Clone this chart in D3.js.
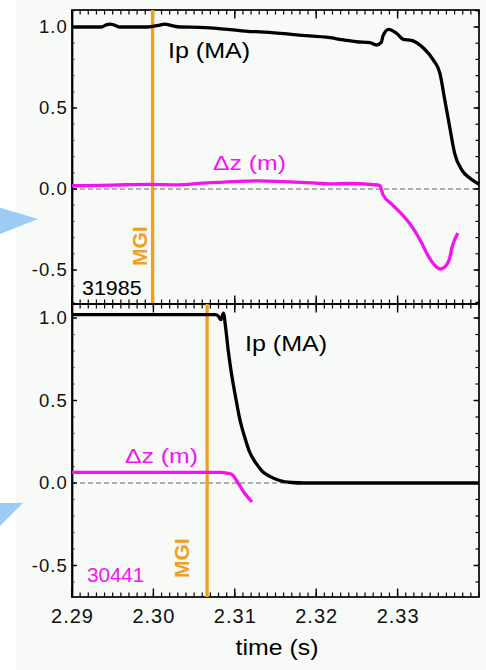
<!DOCTYPE html>
<html>
<head>
<meta charset="utf-8">
<script src="https://cdn.jsdelivr.net/npm/d3@7"></script>
<style>
  html, body { margin: 0; padding: 0; background: #ffffff; }
  svg { display: block; }
  text { font-family: "Liberation Sans", Arial, Helvetica, sans-serif; }
</style>
</head>
<body>
<svg id="chart" width="486" height="670"></svg>
<script>
// ---- shared axis settings ----
const timeDomain = [2.29, 2.34];
const timeTicks = [2.29, 2.30, 2.31, 2.32, 2.33];
const timeTickLabels = ["2.29", "2.30", "2.31", "2.32", "2.33"];
const valueTicks = [1.0, 0.5, 0.0, -0.5];
const valueTickLabels = ["1.0", "0.5", "0.0", "-0.5"];

// ---- shot 31985 (upper panel) ----
const shotTop = "31985";
const mgiTop = 2.2999;
const ipTimeTop = [2.2900, 2.2936, 2.2942, 2.2947, 2.2952, 2.2959, 2.2993, 2.3008, 2.3014, 2.3020,
  2.3033, 2.3057, 2.3094, 2.3119, 2.3131, 2.3156, 2.3176, 2.3217, 2.3229, 2.3250,
  2.3266, 2.3274, 2.3280, 2.3282, 2.3289, 2.3299, 2.3307, 2.3317, 2.3332, 2.3344,
  2.3352, 2.3358, 2.3364, 2.3370, 2.3379, 2.3389, 2.3400];
const ipValueTop = [1.000, 1.000, 1.013, 1.018, 1.012, 1.000, 1.000, 1.012, 1.018, 1.012,
  1.000, 0.998, 0.984, 0.972, 0.970, 0.961, 0.951, 0.934, 0.924, 0.909,
  0.903, 0.889, 0.905, 0.945, 0.986, 0.960, 0.924, 0.918, 0.869, 0.796,
  0.714, 0.549, 0.383, 0.222, 0.117, 0.066, 0.029];
const dzTimeTop = [2.2900, 2.2950, 2.2996, 2.3030, 2.3060, 2.3100, 2.3130, 2.3160, 2.3200, 2.3220,
  2.3240, 2.3270, 2.3278, 2.3282, 2.3294, 2.3306, 2.3318, 2.3329, 2.3339, 2.3347,
  2.3352, 2.3358, 2.3364, 2.3367, 2.3374];
const dzValueTop = [0.020, 0.024, 0.029, 0.026, 0.036, 0.046, 0.050, 0.045, 0.036, 0.031,
  0.034, 0.027, 0.022, -0.035, -0.099, -0.160, -0.235, -0.327, -0.426, -0.478,
  -0.494, -0.481, -0.426, -0.358, -0.272];

// ---- shot 30441 (lower panel) ----
const shotBottom = "30441";
const mgiBottom = 2.3066;
const ipTimeBottom = [2.2900, 2.3076, 2.3080, 2.3083, 2.3086, 2.3089, 2.3092, 2.3096, 2.3101, 2.3106,
  2.3112, 2.3118, 2.3126, 2.3134, 2.3143, 2.3155, 2.3170, 2.3185, 2.3400];
const ipValueBottom = [1.020, 1.020, 1.010, 0.990, 1.030, 0.930, 0.800, 0.660, 0.520, 0.390,
  0.280, 0.190, 0.120, 0.070, 0.040, 0.015, 0.003, 0.000, 0.000];
const dzTimeBottom = [2.2900, 2.3000, 2.3084, 2.3090, 2.3096, 2.3104, 2.3112, 2.3119, 2.3121];
const dzValueBottom = [0.065, 0.065, 0.065, 0.060, 0.053, 0.000, -0.062, -0.103, -0.115];

// ---- colours ----
const ipColor = "#000000";
const dzColor = "#f512f2";
const mgiColor = "#f0a01e";
const frameColor = "#000000";
const minorTickColor = "#8a8a8a";

const svg = d3.select("#chart");

// page background: white strip on the left, pale tint behind the plots
svg.append("rect").attr("x", 0).attr("y", 0).attr("width", 486).attr("height", 670).attr("fill", "#ffffff");
svg.append("rect").attr("x", 16).attr("y", 0).attr("width", 470).attr("height", 670).attr("fill", "#f7faf6");

// blue pointer markers at the left edge
svg.append("polygon").attr("points", "-20,202 38,219 -20,242").attr("fill", "#9ccbf6");
svg.append("polygon").attr("points", "-10,503 23,503 -10,536").attr("fill", "#9ccbf6");

const x = d3.scaleLinear().domain(timeDomain).range([72, 479]);
const minorTime = d3.range(0, 51).map(i => +(timeDomain[0] + i * 0.001).toFixed(3));
const minorValue = d3.range(-7, 12).map(i => +(i * 0.1).toFixed(1));

// horizontal text, slightly widened like the original lettering
function label(parent, px, py, str, size, sx, color, opts = {}) {
  return parent.append("text")
    .attr("transform", `translate(${px},${py}) scale(${sx},1)`)
    .attr("font-size", size)
    .attr("font-weight", opts.weight || "normal")
    .attr("text-anchor", opts.anchor || "start")
    .attr("fill", color)
    .text(str);
}

// inward tick marks along a horizontal frame edge
function timeTickMarks(yEdge, values, len, dir, width) {
  svg.append("g").attr("class", "tick-marks").selectAll("line").data(values).join("line")
    .attr("x1", d => x(d)).attr("x2", d => x(d))
    .attr("y1", yEdge).attr("y2", yEdge + dir * len)
    .attr("stroke", frameColor).attr("stroke-width", width);
}

// inward tick marks along a vertical frame edge
function valueTickMarks(y, xEdge, values, len, dir, color, width) {
  svg.append("g").attr("class", "tick-marks").selectAll("line").data(values).join("line")
    .attr("x1", xEdge).attr("x2", xEdge + dir * len)
    .attr("y1", d => y(d)).attr("y2", d => y(d))
    .attr("stroke", color).attr("stroke-width", width);
}

function drawPanel(cfg) {
  const y = d3.scaleLinear().domain(cfg.valueDomain).range([cfg.bottom, cfg.top]);
  const minorV = minorValue.filter(v => v >= cfg.valueDomain[0] && v <= cfg.valueDomain[1]);
  const [xl, xr] = x.range();

  // zero reference
  svg.append("line")
    .attr("x1", xl).attr("x2", xr)
    .attr("y1", y(0)).attr("y2", y(0))
    .attr("stroke", "#6b6b6b").attr("stroke-width", 1.2).attr("stroke-dasharray", "5,3");

  // tick marks on all four sides
  valueTickMarks(y, xl, minorV, 3, 1, minorTickColor, 1.2);
  valueTickMarks(y, xl, valueTicks, 5, 1, frameColor, 1.4);
  valueTickMarks(y, xr, minorV, 3.5, -1, frameColor, 1.2);
  valueTickMarks(y, xr, valueTicks, 5.5, -1, frameColor, 1.4);
  timeTickMarks(cfg.top, minorTime, 4.5, 1, 1.2);
  timeTickMarks(cfg.top, timeTicks, 8.5, 1, 1.4);
  timeTickMarks(cfg.bottom, minorTime, 4.5, -1, 1.2);
  timeTickMarks(cfg.bottom, timeTicks, 8.5, -1, 1.4);

  // left value axis labels and frame
  const left = svg.append("g").attr("transform", `translate(${xl},0)`)
    .call(d3.axisLeft(y).tickValues(valueTicks).tickSizeInner(0).tickSizeOuter(0).tickPadding(4)
      .tickFormat((d, i) => valueTickLabels[i]));
  left.selectAll("text").attr("font-size", 18.5).attr("letter-spacing", 1.1)
    .attr("fill", "#111").attr("font-family", "Liberation Sans, Arial, sans-serif");
  left.select(".domain").attr("stroke", frameColor).attr("stroke-width", 1.7);

  // remaining frame edges
  svg.append("rect").attr("x", xl).attr("y", cfg.top)
    .attr("width", xr - xl).attr("height", cfg.bottom - cfg.top)
    .attr("fill", "none").attr("stroke", frameColor).attr("stroke-width", 1.7);

  const line = d3.line().x(d => x(d[0])).y(d => y(d[1])).curve(d3.curveMonotoneX);

  // MGI trigger
  svg.append("line")
    .attr("x1", x(cfg.mgi)).attr("x2", x(cfg.mgi))
    .attr("y1", cfg.top).attr("y2", cfg.bottom)
    .attr("stroke", mgiColor).attr("stroke-width", 3.3);

  svg.append("path")
    .datum(d3.zip(cfg.dzTime, cfg.dzValue))
    .attr("d", line).attr("fill", "none")
    .attr("stroke", dzColor).attr("stroke-width", 3.3).attr("stroke-linejoin", "round");

  svg.append("path")
    .datum(d3.zip(cfg.ipTime, cfg.ipValue))
    .attr("d", line).attr("fill", "none")
    .attr("stroke", ipColor).attr("stroke-width", 3.3).attr("stroke-linejoin", "round");

  // annotations
  label(svg, cfg.ipLabel[0], cfg.ipLabel[1], "Ip (MA)", 22, 1.14, "#000");
  label(svg, cfg.dzLabel[0], cfg.dzLabel[1], "\u0394z (m)", 21, 1.18, dzColor);
  label(svg, cfg.shotLabel[0], cfg.shotLabel[1], cfg.shot, cfg.shotSize, cfg.shotScale, cfg.shotColor);
  svg.append("text")
    .attr("transform", `translate(${cfg.mgiLabel[0]},${cfg.mgiLabel[1]}) rotate(-90)`)
    .attr("font-size", 21).attr("font-weight", "bold").attr("fill", mgiColor).text("MGI");

  return y;
}

drawPanel({
  top: 10, bottom: 304, valueDomain: [-0.71, 1.105],
  ipTime: ipTimeTop, ipValue: ipValueTop, dzTime: dzTimeTop, dzValue: dzValueTop,
  mgi: mgiTop, shot: shotTop, shotColor: "#000", shotSize: 19.5, shotScale: 1.1,
  ipLabel: [168, 58], dzLabel: [213, 170], shotLabel: [82, 295], mgiLabel: [147, 266]
});

drawPanel({
  top: 304, bottom: 597, valueDomain: [-0.691, 1.085],
  ipTime: ipTimeBottom, ipValue: ipValueBottom, dzTime: dzTimeBottom, dzValue: dzValueBottom,
  mgi: mgiBottom, shot: shotBottom, shotColor: dzColor, shotSize: 20, shotScale: 1.03,
  ipLabel: [245, 351], dzLabel: [125, 463], shotLabel: [87, 582], mgiLabel: [189, 578]
});

// time labels under the lower panel
const timeAxis = svg.append("g").attr("transform", "translate(0,597)");
timeAxis.call(d3.axisBottom(x).tickValues(timeTicks).tickSizeInner(0).tickSizeOuter(0).tickPadding(11.5)
  .tickFormat((d, i) => timeTickLabels[i]));
timeAxis.select(".domain").remove();
timeAxis.selectAll("text").attr("font-size", 20).attr("letter-spacing", 1).attr("fill", "#111")
  .attr("font-family", "Liberation Sans, Arial, sans-serif");

label(svg, 277, 655, "time (s)", 22, 1.13, "#000", { anchor: "middle" });
</script>
</body>
</html>
